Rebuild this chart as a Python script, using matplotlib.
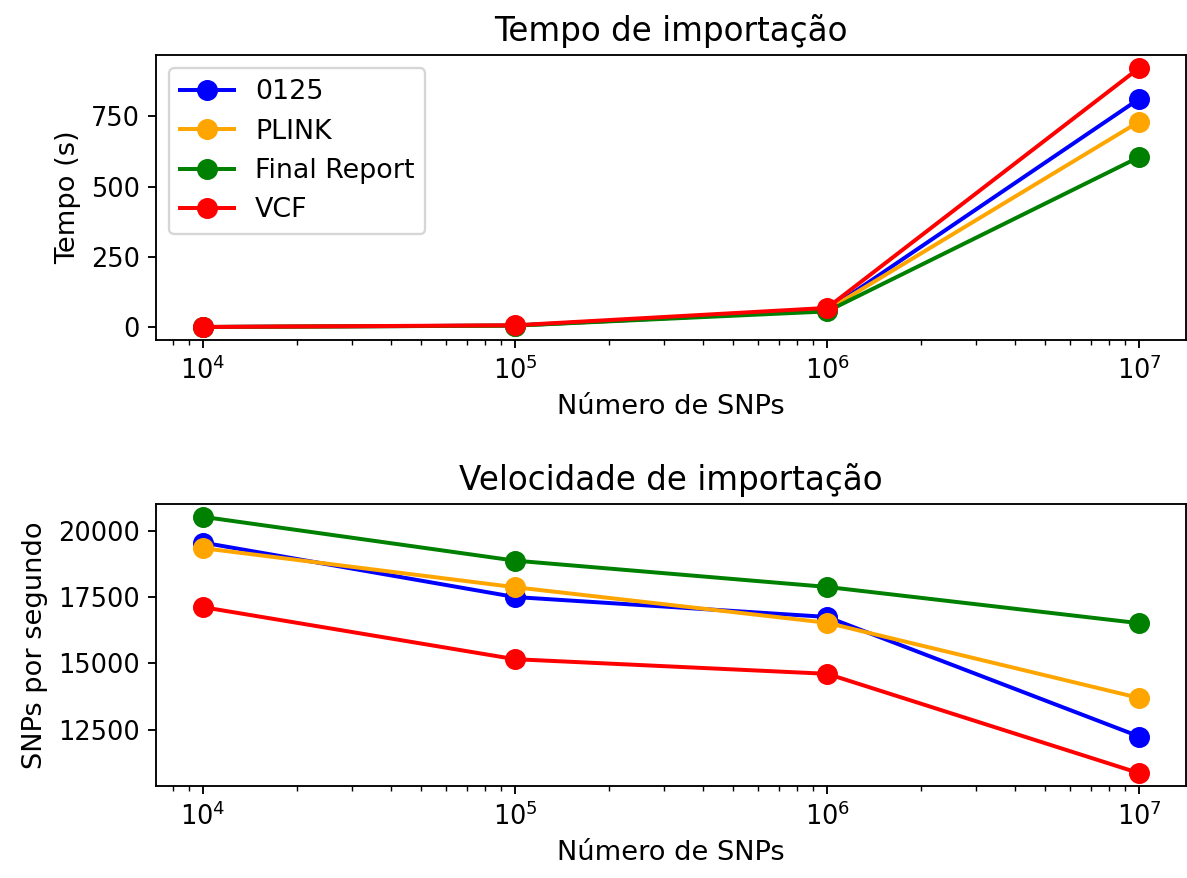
import numpy as np
import matplotlib
matplotlib.use('Agg')
import matplotlib.pyplot as plt

# numero de SNPs testados
snps = [1e4, 1e5, 1e6, 1e7]

formatos = ['0125', 'PLINK', 'Final Report', 'VCF']
cores = ['blue', 'orange', 'green', 'red']

# tempo de importacao (s)
tempo_0125 = [0.51, 5.7, 59.7, 812]
tempo_plink = [0.52, 5.6, 60.5, 731]
tempo_fr = [0.49, 5.3, 55.9, 605]
tempo_vcf = [0.58, 6.6, 68.4, 922]

# velocidade (SNPs por segundo)
vel_0125 = [19550, 17500, 16750, 12250]
vel_plink = [19340, 17870, 16530, 13700]
vel_fr = [20520, 18870, 17880, 16515]
vel_vcf = [17120, 15160, 14610, 10870]

tempos = [tempo_0125, tempo_plink, tempo_fr, tempo_vcf]
velocidades = [vel_0125, vel_plink, vel_fr, vel_vcf]

dpi = 168
fig, (ax1, ax2) = plt.subplots(2, 1, figsize=(1187 / dpi, 878 / dpi), dpi=dpi)
ax1.set_position([0.1314, 0.6128, 0.9992 - 0.1314, 0.9374 - 0.6128])
ax2.set_position([0.1314, 0.1048, 0.9992 - 0.1314, 0.426 - 0.1048])

for nome, cor, t in zip(formatos, cores, tempos):
    ax1.plot(snps, t, marker='o', color=cor, label=nome, markersize=8, linewidth=1.7)
ax1.set_xscale('log')
ax1.set_title('Tempo de importação', fontsize=14)
ax1.set_xlabel('Número de SNPs', fontsize=11.7)
ax1.set_ylabel('Tempo (s)', fontsize=11.7)
ax1.set_yticks([0, 250, 500, 750])
ax1.legend(loc='upper left', fontsize=11.5)

for nome, cor, v in zip(formatos, cores, velocidades):
    ax2.plot(snps, v, marker='o', color=cor, label=nome, markersize=8, linewidth=1.7)
ax2.set_xscale('log')
ax2.set_title('Velocidade de importação', fontsize=14)
ax2.set_xlabel('Número de SNPs', fontsize=11.7)
ax2.set_ylabel('SNPs por segundo', fontsize=11.7)
ax2.set_yticks([12500, 15000, 17500, 20000])

for ax in (ax1, ax2):
    ax.tick_params(labelsize=11)

fig.savefig('out.png', dpi=dpi)
